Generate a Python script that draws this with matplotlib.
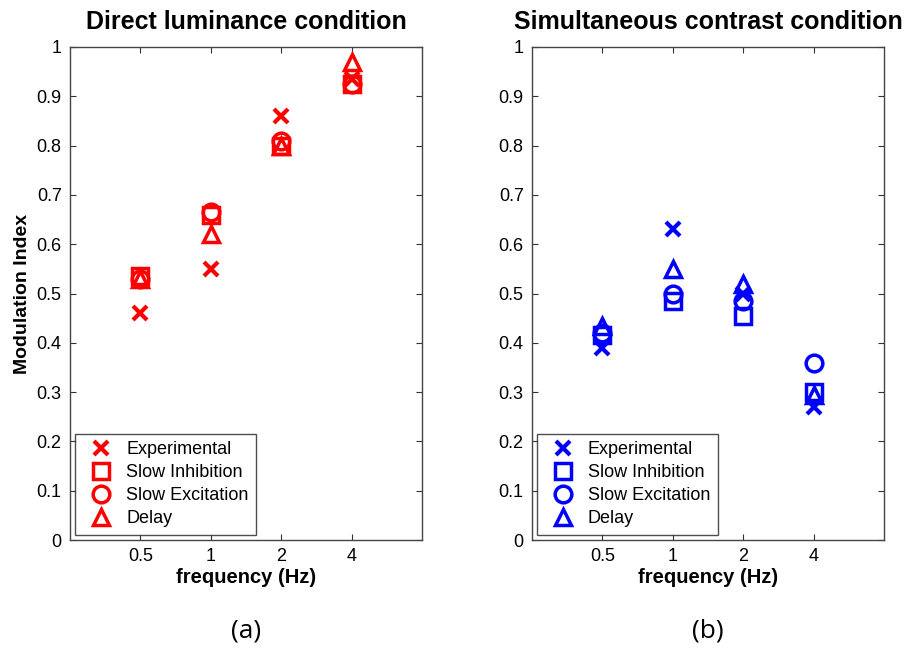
import numpy as np
import matplotlib.pyplot as plt

plt.rcParams['font.family'] = ['Liberation Sans', 'DejaVu Sans']

freq_labels = ['0.5', '1', '2', '4']
series_names = ['Experimental', 'Slow Inhibition', 'Slow Excitation', 'Delay']

# direct luminance condition (red)
direct_exp = [0.46, 0.55, 0.86, 0.935]
direct_inh = [0.535, 0.66, 0.80, 0.925]
direct_exc = [0.53, 0.665, 0.81, 0.925]
direct_delay = [0.53, 0.62, 0.80, 0.97]

# simultaneous contrast condition (blue)
contrast_exp = [0.39, 0.63, 0.50, 0.27]
contrast_inh = [0.415, 0.485, 0.455, 0.30]
contrast_exc = [0.42, 0.50, 0.485, 0.36]
contrast_delay = [0.435, 0.55, 0.52, 0.295]

markers = ['x', 's', 'o', '^']
msizes = [10.5, 12, 12, 12]
mwidths = [3, 2.5, 2.5, 2.5]

fig = plt.figure(figsize=(9.06, 6.5), dpi=100)
ax1 = fig.add_axes([0.0773, 0.1692, 0.3885, 0.7585])
ax2 = fig.add_axes([0.5872, 0.1692, 0.3885, 0.7585])

panels = [
    (ax1, [direct_exp, direct_inh, direct_exc, direct_delay], 'red', 'Direct luminance condition', '(a)'),
    (ax2, [contrast_exp, contrast_inh, contrast_exc, contrast_delay], 'blue', 'Simultaneous contrast condition', '(b)'),
]

x = np.arange(1, len(freq_labels) + 1)
for ax, data, col, title, tag in panels:
    for vals, name, m, ms, mw in zip(data, series_names, markers, msizes, mwidths):
        ax.plot(x, vals, linestyle='none', marker=m, markersize=ms,
                markerfacecolor='none', markeredgecolor=col, markeredgewidth=mw,
                label=name)
    ax.set_xlim(0, 5)
    ax.set_ylim(0, 1)
    ax.set_xticks(x)
    ax.set_xticklabels(freq_labels)
    ax.set_yticks(np.arange(0, 1.01, 0.1))
    ax.set_yticklabels(['0'] + ['%.1f' % v for v in np.arange(0.1, 0.95, 0.1)] + ['1'])
    ax.tick_params(direction='in', top=True, right=True, labelsize=13, length=4,
                   width=0.8, color='#333333', pad=6)
    for s in ax.spines.values():
        s.set_color('#444444')
        s.set_linewidth(1)
    ax.set_title(title, fontsize=18, fontweight='bold', pad=13)
    ax.set_xlabel('frequency (Hz)', fontsize=14.5, fontweight='bold', labelpad=2)
    leg = ax.legend(loc='lower left', numpoints=1, fontsize=13, frameon=True,
                    fancybox=False, edgecolor='#222222', handlelength=2.0,
                    handletextpad=0.4, borderpad=0.4, labelspacing=0.34,
                    borderaxespad=0.3)
    leg.get_frame().set_linewidth(1)
    ax.text(0.5, -0.16, tag, transform=ax.transAxes, ha='center', va='top',
            fontsize=19, family=['Open Sans', 'DejaVu Sans'])

ax1.set_ylabel('Modulation Index', fontsize=14, fontweight='bold', labelpad=4)

fig.savefig('out.png', dpi=100)
